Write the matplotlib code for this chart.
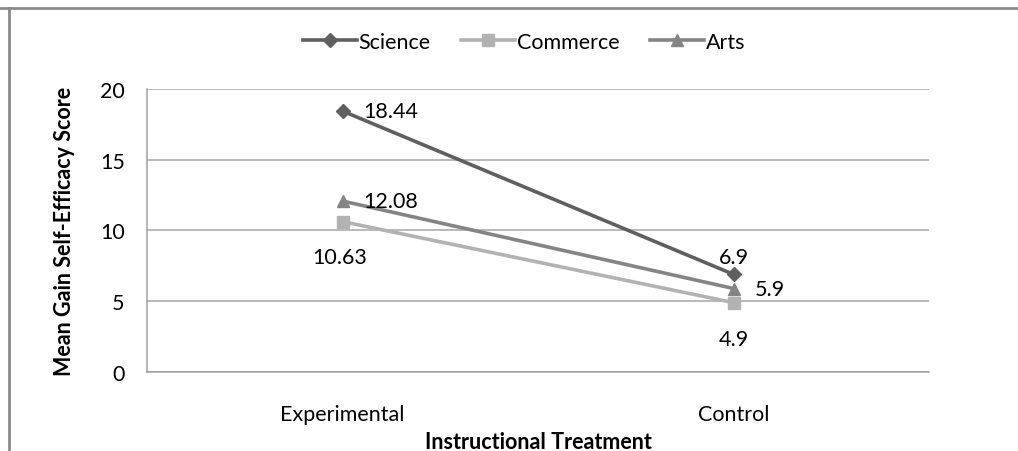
import matplotlib.pyplot as plt
from matplotlib.lines import Line2D

plt.rcParams['font.family'] = ['Lato', 'DejaVu Sans']

categories = ["Experimental", "Control"]
science = [18.44, 6.9]
commerce = [10.63, 4.9]
arts = [12.08, 5.9]

FS = 15.5

fig = plt.figure(figsize=(10.18, 4.52), dpi=100)
ax = fig.add_axes([0.1444, 0.1748, 0.7682, 0.6261])

x = [0, 1]
ax.plot(x, science, color="#5f5f5f", lw=2.6, marker="D", ms=7, label="Science", zorder=3)
ax.plot(x, commerce, color="#b2b2b2", lw=2.6, marker="s", ms=9, label="Commerce", zorder=3)
ax.plot(x, arts, color="#848484", lw=2.6, marker="^", ms=9, label="Arts", zorder=3)

# data labels, placed like the original
ax.annotate(f"{science[0]}", (x[0], science[0]), xytext=(15, 0), textcoords="offset points",
            ha="left", va="center", fontsize=FS)
ax.annotate(f"{arts[0]}", (x[0], arts[0]), xytext=(15, 0), textcoords="offset points",
            ha="left", va="center", fontsize=FS)
ax.annotate(f"{commerce[0]}", (x[0], commerce[0]), xytext=(-2, -18), textcoords="offset points",
            ha="center", va="top", fontsize=FS)
ax.annotate(f"{science[1]}", (x[1], science[1]), xytext=(0, 5), textcoords="offset points",
            ha="center", va="bottom", fontsize=FS)
ax.annotate(f"{arts[1]}", (x[1], arts[1]), xytext=(15, 0), textcoords="offset points",
            ha="left", va="center", fontsize=FS)
ax.annotate(f"{commerce[1]}", (x[1], commerce[1]), xytext=(0, -19), textcoords="offset points",
            ha="center", va="top", fontsize=FS)

ax.set_xlim(-0.5, 1.5)
ax.set_ylim(0, 20)
ax.set_yticks([0, 5, 10, 15, 20])
ax.set_xticks(x)
ax.set_xticklabels(categories)
ax.tick_params(axis="both", length=0, labelsize=FS, colors="black")
ax.tick_params(axis="y", pad=16)
ax.tick_params(axis="x", pad=23)
ax.grid(axis="y", color="#a6a6a6", lw=1.1)
ax.set_axisbelow(True)
for side in ["top", "right"]:
    ax.spines[side].set_visible(False)
for side in ["left", "bottom"]:
    ax.spines[side].set_color("#a0a0a0")
    ax.spines[side].set_linewidth(1.1)

ax.set_ylabel("Mean Gain Self-Efficacy Score", fontsize=FS, fontweight="bold", labelpad=18)
ax.set_xlabel("Instructional Treatment", fontsize=FS, fontweight="bold", labelpad=5)

fig.legend(loc="center", bbox_to_anchor=(524 / 1018, 1 - 43 / 452), ncol=3, frameon=False,
           fontsize=FS, handlelength=2.5, columnspacing=1.4, handletextpad=0.1)

# chart frame (only top and left edges visible in the crop)
fig.add_artist(Line2D([0, 1], [1 - 9 / 452, 1 - 9 / 452], transform=fig.transFigure,
                      color="#8a8a8a", lw=2))
fig.add_artist(Line2D([9 / 1018, 9 / 1018], [0, 1 - 9 / 452], transform=fig.transFigure,
                      color="#8a8a8a", lw=2))

fig.savefig("out.png", dpi=100)
